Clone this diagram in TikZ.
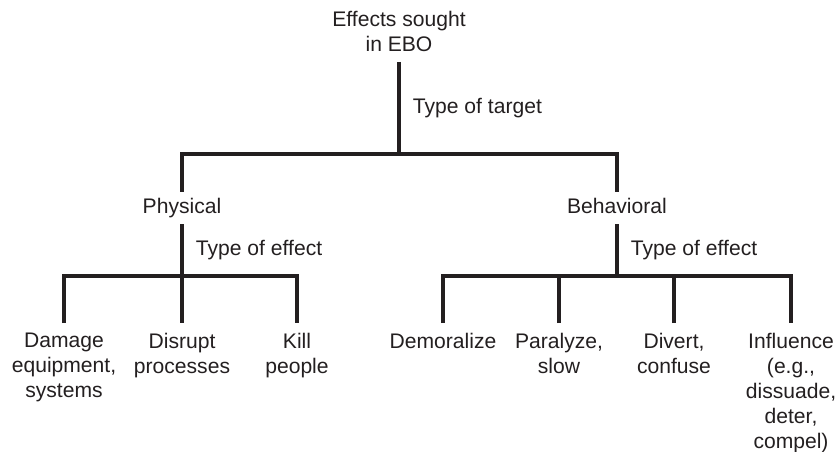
\documentclass[tikz,border=0pt]{standalone}
\usepackage{fontspec}
\setmainfont{Liberation Sans}
\usetikzlibrary{positioning}

\definecolor{ink}{HTML}{231F20}

\tikzset{
	branch/.style={line width=2.7pt,ink,line join=miter},
	txt/.style={inner sep=0pt,text=ink,align=center,font=\fontsize{15}{17.8}\selectfont},
	mid/.style={txt,text height=11pt,text depth=3pt,outer sep=0.16cm},
	leaf/.style={txt,anchor=north,outer sep=0.25cm},
	edgelabel/.style={txt,midway,right,xshift=0.3cm}
}

\begin{document}
\begin{tikzpicture}[x=0.025cm,y=-0.025cm]
	\useasboundingbox (0,0) rectangle (840,452);
	
	\coordinate (j0) at (399,154); 
	\coordinate (j1) at (182,276);
	\coordinate (j2) at (617,276);
	
	\node[txt,anchor=south,outer sep=0.25cm] (root) at (399,62) {Effects sought\\in EBO};
	\node[mid] (phys) at (182,208) {Physical};
	\node[mid] (beh) at (617,208) {Behavioral};
	
	\node[leaf] (dmg) at (64,323) {Damage\\equipment,\\systems};
	\node[leaf] (disr) at (182,323) {Disrupt\\processes};
	\node[leaf] (kill) at (297,323) {Kill\\people};
	
	\node[leaf] (demo) at (443,323) {Demoralize};
	\node[leaf] (para) at (559,323) {Paralyze,\\slow};
	\node[leaf] (div) at (674,323) {Divert,\\confuse};
	\node[leaf] (infl) at (791,323) {Influence\\(e.g.,\\dissuade,\\deter,\\compel)};
	
	\draw[branch] (root.south) -- (j0) node[edgelabel] {Type of target};
	\draw[branch] (phys.north) |- (j0) -| (beh.north);
	
	\draw[branch] (phys.south) -- (j1) node[edgelabel] {Type of effect};
	\draw[branch] (dmg.north) |- (j1) -| (kill.north);
	\draw[branch] (j1) -- (disr.north);
	
	\draw[branch] (beh.south) -- (j2) node[edgelabel] {Type of effect};
	\draw[branch] (demo.north) |- (j2) -| (infl.north);
	\draw[branch] (para.north) -- (para.north |- j2);
	\draw[branch] (div.north) -- (div.north |- j2);
\end{tikzpicture}
\end{document}
